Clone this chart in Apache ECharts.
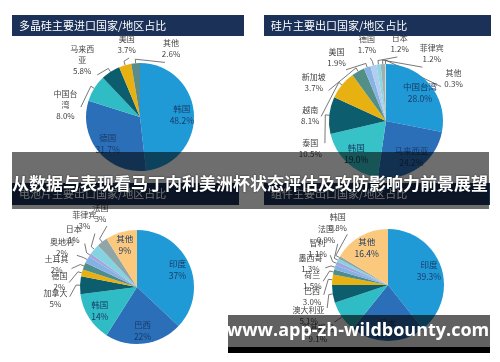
<!DOCTYPE html>
<html><head><meta charset="utf-8">
<script src="https://cdn.jsdelivr.net/npm/echarts@6/dist/echarts.min.js"></script>
<style>html,body{margin:0;padding:0;background:#fff}#c{width:500px;height:362px}</style>
</head><body><div id="c"></div>
<script>
const headline = '从数据与表现看马丁内利美洲杯状态评估及攻防影响力前景展望';
const watermark = 'www.app-zh-wildbounty.com';
const titles = ['多晶硅主要进口国家/地区占比', '硅片主要出口国家/地区占比', '电池片主要出口国家/地区占比', '组件主要出口国家/地区占比'];

const polyNames = ['韩国', '德国', '中国台湾', '马来西亚', '美国', '其他'];
const polyValues = [48.2, 31.7, 8.0, 5.8, 3.7, 2.6];

const waferNames = ['中国台湾', '马来西亚', '韩国', '泰国', '越南', '新加坡', '美国', '德国', '日本', '菲律宾', '其他'];
const waferValues = [28.0, 24.2, 19.0, 10.5, 8.1, 3.7, 1.9, 1.7, 1.2, 1.2, 0.3];

const cellNames = ['印度', '巴西', '韩国', '加拿大', '德国', '土耳其', '奥地利', '日本', '菲律宾', '法国', '其他'];
const cellValues = [37, 22, 14, 5, 2, 2, 2, 1, 3, 3, 9];

const moduleNames = ['印度', '日本', '巴基斯坦', '澳大利亚', '巴西', '荷兰', '墨西哥', '智利', '法国', '韩国', '其他'];
const moduleValues = [39.3, 21.5, 9.1, 5.1, 3.0, 1.5, 1.3, 1.1, 0.9, 0.8, 16.4];

const FONT = '"Noto Sans CJK SC", "Noto Sans", sans-serif';
const palettes = [
  ['#1f9ad6', '#2a6fb7', '#2fbcc4', '#0c5d6d', '#e8b112', '#5b8c8a'],
  ['#1f9ad6', '#2a6fb7', '#36c2c6', '#0c5d6d', '#e8b112', '#548f87', '#86b3e3', '#b2cdee', '#8fd6e4', '#9fb1b1', '#c9d6d6'],
  ['#1f9ad6', '#2a6fb7', '#2fbcc4', '#0c5d6d', '#e8b112', '#4f8d8c', '#84b2e4', '#a3a6de', '#84d3e0', '#8fa5a8', '#fbc97d'],
  ['#1f9ad6', '#2a6fb7', '#2fbcc4', '#0c5d6d', '#e8b112', '#4f8d8c', '#84b2e4', '#a3a6de', '#84d3e0', '#8fa5a8', '#fbc97d']
];
const charts = [
  {names: polyNames, values: polyValues, dec: 1, thr: 20, wrap: 3, sep: 35, gap: 7},
  {names: waferNames, values: waferValues, dec: 1, thr: 15, wrap: 0, sep: 24, gap: 9},
  {names: cellNames, values: cellValues, dec: 0, thr: 8.5, wrap: 0, sep: 12, gap: 12},
  {names: moduleNames, values: moduleValues, dec: 1, thr: 15, wrap: 0, sep: 12, gap: 10}
];
const centers = [[140, 117], [386, 121], [137, 287], [388, 285]];
const radii = [54, 57, 57, 56];
const bars = [[12, 15, 232, 21], [264, 15, 227, 21], [12, 183, 227, 22], [264, 183, 226, 22]];

function wrapName(n, k) {
  if (!k || n.length <= k) return n;
  return n.slice(0, k) + '\n' + n.slice(k);
}

// spread outside-label angles so that neighbouring labels keep a minimum angular gap
function spreadAngles(c) {
  const total = c.values.reduce((s, v) => s + v, 0);
  let cum = 0;
  const mids = [];
  c.values.forEach((v, i) => { mids.push({i: i, a: (cum + v / 2) / total * 360}); cum += v; });
  const small = mids.filter(m => c.values[m.i] < c.thr).sort((p, q) => p.a - q.a);
  const arr = small.map(m => m.a);
  for (let it = 0; it < 300; it++) {
    for (let k = 1; k < arr.length; k++) {
      const d = arr[k] - arr[k - 1];
      if (d < c.sep) { const p = (c.sep - d) / 2; arr[k - 1] -= p; arr[k] += p; }
    }
  }
  const res = {};
  small.forEach((m, k) => { res[m.i] = {orig: m.a, a: arr[k]}; });
  return res;
}

const series = [];
charts.forEach((c, ci) => {
  const pal = palettes[ci];
  const fmt = v => v.toFixed(c.dec) + '%';
  const spread = spreadAngles(c);
  const cx = centers[ci][0], cy = centers[ci][1], r = radii[ci];
  const pt = (a, d) => { const t = a * Math.PI / 180; return [cx + d * Math.sin(t), cy - d * Math.cos(t)]; };
  series.push({
    type: 'pie', center: centers[ci], radius: [0, r], z: 2,
    startAngle: 90, clockwise: true, silent: true, animation: false,
    avoidLabelOverlap: false,
    labelLayout: function (params) {
      const s = spread[params.dataIndex];
      if (!s) return {};
      const t = s.a * Math.PI / 180;
      const w = params.labelRect.width, h = params.labelRect.height;
      const ext = Math.abs(Math.sin(t)) * w / 2 + Math.abs(Math.cos(t)) * h / 2;
      const p = pt(s.a, r + c.gap + ext);
      return {
        x: p[0], y: p[1], align: 'center', verticalAlign: 'middle', hideOverlap: false,
        labelLinePoints: [pt(s.orig, r), pt(s.orig, r + 4), pt(s.a, r + c.gap - 1)]
      };
    },
    label: {fontSize: 8, color: '#444', fontFamily: FONT, lineHeight: 11, align: 'center',
      formatter: p => wrapName(p.name, c.wrap) + '\n' + fmt(p.value)},
    labelLine: {length: 8, length2: 6, lineStyle: {color: '#555', width: 0.8}},
    data: c.names.map((n, i) => ({
      name: n, value: c.values[i],
      itemStyle: {color: pal[i % pal.length]},
      label: {show: c.values[i] < c.thr},
      labelLine: {show: c.values[i] < c.thr}
    }))
  });
  series.push({
    type: 'pie', center: centers[ci], radius: [r * 0.44, r], z: 3,
    startAngle: 90, clockwise: true, silent: true, animation: false,
    label: {position: 'inside', fontSize: 8.5, color: '#1b3a68', fontFamily: FONT, lineHeight: 12,
      formatter: p => p.name + '\n' + fmt(p.value)},
    labelLine: {show: false},
    data: c.names.map((n, i) => ({
      name: n, value: c.values[i],
      itemStyle: {color: 'rgba(0,0,0,0)'},
      label: {show: c.values[i] >= c.thr}
    }))
  });
});

const graphic = [];
bars.forEach((b, i) => {
  graphic.push({type: 'rect', z: 1, shape: {x: b[0], y: b[1], width: b[2], height: b[3]}, style: {fill: '#1b3158'}});
  graphic.push({type: 'text', z: 1, x: b[0] + 7, y: b[1] + b[3] / 2,
    style: {text: titles[i], fill: '#fff', font: '11px ' + FONT, verticalAlign: 'middle'}});
});
graphic.push({type: 'rect', z: 100, shape: {x: 12, y: 152, width: 477, height: 57}, style: {fill: 'rgba(0,0,0,0.57)'}});
graphic.push({type: 'text', z: 101, x: 250, y: 184,
  style: {text: headline, fill: '#fff', font: 'bold 17px ' + FONT, align: 'center', verticalAlign: 'middle',
    textShadowColor: 'rgba(0,0,0,0.6)', textShadowBlur: 2}});
graphic.push({type: 'rect', z: 100, shape: {x: 228, y: 315, width: 262, height: 32}, style: {fill: 'rgba(0,0,0,0.62)'}});
graphic.push({type: 'rect', z: 100, shape: {x: 228, y: 347, width: 262, height: 6}, style: {fill: '#000'}});
graphic.push({type: 'text', z: 101, x: 358, y: 331,
  style: {text: watermark, fill: '#fff', font: 'bold 18px "Open Sans", sans-serif', align: 'center', verticalAlign: 'middle'}});

const chart = echarts.init(document.getElementById('c'), null, {renderer: 'canvas'});
chart.setOption({backgroundColor: '#fff', animation: false, series: series, graphic: graphic});
</script>
</body></html>
